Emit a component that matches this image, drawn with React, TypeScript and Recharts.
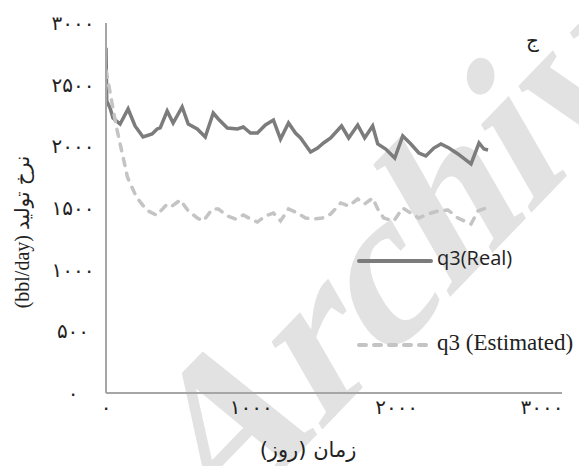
import React from 'react';
import { LineChart, Line, XAxis, YAxis, Legend } from 'recharts';

// values (day, bbl/day)
const realDays = [0, 5, 28, 48, 97, 152, 200, 255, 317, 352, 373, 421, 462, 524, 566, 628, 683, 738, 773, 835, 904, 945, 994, 1042, 1097, 1152, 1201, 1256, 1304, 1339, 1408, 1456, 1497, 1546, 1621, 1670, 1732, 1780, 1835, 1870, 1925, 1987, 2042, 2098, 2153, 2201, 2256, 2305, 2360, 2422, 2512, 2567, 2601, 2629];
const realRates = [2800, 2368, 2311, 2230, 2181, 2303, 2165, 2076, 2100, 2141, 2149, 2286, 2189, 2319, 2181, 2141, 2076, 2270, 2222, 2149, 2141, 2157, 2108, 2108, 2173, 2213, 2059, 2189, 2108, 2068, 1954, 1986, 2027, 2068, 2165, 2068, 2173, 2068, 2165, 2019, 1978, 1905, 2084, 2019, 1946, 1922, 1986, 2019, 1986, 1938, 1857, 2027, 1978, 1970];

const estDays = [0, 38, 72, 107, 148, 210, 280, 349, 421, 455, 511, 566, 628, 670, 732, 773, 835, 890, 945, 994, 1042, 1097, 1152, 1201, 1256, 1318, 1373, 1428, 1490, 1546, 1615, 1670, 1732, 1780, 1835, 1870, 1911, 1980, 2042, 2098, 2153, 2215, 2284, 2353, 2422, 2512, 2560, 2615];
const estRates = [2616, 2373, 2154, 1968, 1749, 1587, 1482, 1441, 1532, 1516, 1565, 1476, 1419, 1395, 1492, 1492, 1435, 1411, 1443, 1411, 1386, 1435, 1459, 1395, 1492, 1459, 1419, 1411, 1419, 1451, 1541, 1516, 1573, 1532, 1581, 1492, 1419, 1395, 1500, 1459, 1419, 1451, 1476, 1484, 1419, 1370, 1476, 1500];

const seriesNames = ['q3(Real)', 'q3 (Estimated)'];
const xTicks = [0, 1000, 2000, 3000];
const yTicks = [0, 500, 1000, 1500, 2000, 2500, 3000];

const realData = realDays.map((d, i) => ({ day: d, rate: realRates[i] }));
const estData = estDays.map((d, i) => ({ day: d, rate: estRates[i] }));

const toFa = (n: number) => String(n).replace(/\d/g, (d) => '۰۱۲۳۴۵۶۷۸۹'[+d]);

const AXIS = '#a6a6a6';
const REAL = '#7c7c7c';
const EST = '#c4c4c4';

const YTick = ({ y, payload }: any) => (
  <text x={73} y={y} dy={7} textAnchor="middle" fontSize={20} fontFamily="DejaVu Sans" fill="#222">
    {toFa(payload.value)}
  </text>
);

const XTick = ({ x, payload }: any) => (
  <text x={x} y={414} textAnchor="middle" fontSize={20} fontFamily="DejaVu Sans" fill="#222">
    {toFa(payload.value)}
  </text>
);

const LegendBox = ({ payload }: any) => {
  const items = [...(payload || [])].sort(
    (a: any, b: any) => seriesNames.indexOf(a.value) - seriesNames.indexOf(b.value)
  );
  return (
    <div style={{ position: 'relative', width: 224, height: 115 }}>
      {items.map((p: any) => {
        const real = p.value === seriesNames[0];
        const top = real ? 16 : 100;
        return (
          <div key={p.value}>
            <svg width={80} height={10} style={{ position: 'absolute', left: 0, top: top - 5 }}>
              <line
                x1={4} y1={5} x2={76} y2={5}
                stroke={real ? REAL : EST}
                strokeWidth={4}
                strokeLinecap="round"
                strokeDasharray={real ? undefined : '7 8'}
              />
            </svg>
            <span
              style={{
                position: 'absolute',
                left: 82,
                top: top - (real ? 13 : 14),
                fontFamily: real ? 'Open Sans' : 'Liberation Serif',
                fontSize: real ? 20 : 23,
                lineHeight: 1,
                color: '#222',
                whiteSpace: 'nowrap',
              }}
            >
              {p.value}
            </span>
          </div>
        );
      })}
    </div>
  );
};

export default function App() {
  return (
    <div style={{ position: 'relative', width: 579, height: 466, background: '#fff', overflow: 'hidden' }}>
      <style>{'body{margin:0}'}</style>
      <svg width={579} height={466} style={{ position: 'absolute', left: 0, top: 0 }}>
        <text
          transform="translate(390,256) rotate(-46) skewX(-16)"
          textAnchor="middle"
          dominantBaseline="central"
          fontSize={212}
          fontWeight="bold"
          fontFamily="Liberation Serif"
          fill="#e2e2e2"
        >
          Archiv
        </text>
      </svg>
      <div style={{ position: 'absolute', left: 0, top: 0 }}>
        <LineChart width={579} height={466} margin={{ top: 23, right: 17, bottom: 0, left: 0 }}>
          <XAxis
            dataKey="day"
            type="number"
            domain={[0, 3138]}
            ticks={xTicks}
            allowDataOverflow
            height={73}
            axisLine={{ stroke: AXIS, strokeWidth: 2 }}
            tickLine={false}
            tick={<XTick />}
            label={{
              content: () => (
                <text x={308} y={450} textAnchor="middle" dominantBaseline="central" fontSize={21} fontFamily="DejaVu Sans" fill="#222">
                  زمان (روز)
                </text>
              ),
            }}
          />
          <YAxis
            type="number"
            domain={[0, 3000]}
            ticks={yTicks}
            width={106}
            axisLine={{ stroke: AXIS, strokeWidth: 2 }}
            tickLine={false}
            tick={<YTick />}
            label={{
              content: () => (
                <text transform="translate(22,232) rotate(-90)" textAnchor="middle" dominantBaseline="central" fontSize={20} fill="#222">
                  <tspan fontFamily="Liberation Serif">(bbl/day) </tspan>
                  <tspan fontFamily="DejaVu Sans">نرخ تولید</tspan>
                </text>
              ),
            }}
          />
          <Legend
            layout="vertical"
            align="center"
            verticalAlign="middle"
            content={<LegendBox />}
            wrapperStyle={{ left: 355, top: 245, width: 224, height: 115 }}
          />
          <Line
            data={realData}
            dataKey="rate"
            name={seriesNames[0]}
            stroke={REAL}
            strokeWidth={3.5}
            dot={false}
            type="linear"
            isAnimationActive={false}
          />
          <Line
            data={estData}
            dataKey="rate"
            name={seriesNames[1]}
            stroke={EST}
            strokeWidth={3.5}
            strokeDasharray="7 8"
            strokeLinecap="round"
            dot={false}
            type="linear"
            isAnimationActive={false}
          />
        </LineChart>
      </div>
      <div
        style={{
          position: 'absolute',
          left: 526,
          top: 30,
          fontFamily: 'DejaVu Sans',
          fontSize: 20,
          lineHeight: 1,
          color: '#222',
        }}
      >
        ج
      </div>
    </div>
  );
}
